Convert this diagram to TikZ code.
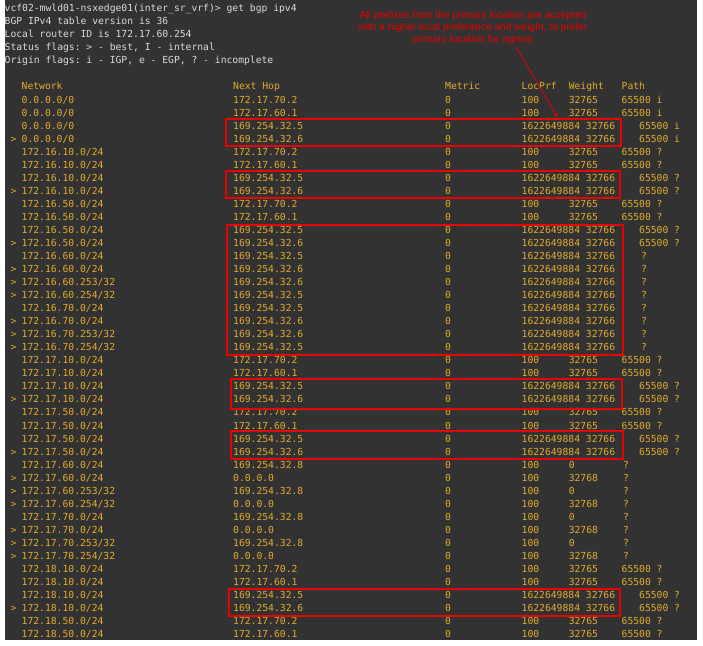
\documentclass[tikz,border=0pt]{standalone}
\usepackage{fontspec}
\usetikzlibrary{arrows.meta}
\setmonofont{DejaVu Sans Mono}
\setsansfont{Liberation Sans}
\definecolor{termbg}{HTML}{323232}
\definecolor{termfg}{HTML}{E2AC2E}
\definecolor{termhd}{HTML}{DADADA}
\definecolor{markred}{HTML}{E80000}
\tikzset{
  cell/.style={anchor=base west, inner sep=0pt, text=termfg, font=\ttfamily\fontsize{9.7}{13}\selectfont},
  headline/.style={cell, text=termhd},
  markbox/.style={draw=markred, line width=1.4pt},
}
% one table row: index, flag, network, next hop, locprf, weight, path, path x
\newcommand\bgprow[8]{%
  \pgfmathsetmacro\rowy{-(100+(#1-1)*13.02+3.5)}
  \node[cell] (flag#1) at (10.5,\rowy) {#2};
  \node[cell] (net#1) at (21.5,\rowy) {#3};
  \node[cell] (hop#1) at (233,\rowy) {#4};
  \node[cell] (met#1) at (445,\rowy) {0};
  \node[cell] (lp#1) at (521.5,\rowy) {#5};
  \node[cell] (wt#1) at (568.6,\rowy) {#6};
  \node[cell] (path#1) at (#8,\rowy) {#7};
}
\begin{document}
\begin{tikzpicture}[x=1pt, y=1pt]
  % Terminal window
  \useasboundingbox (0,0) rectangle (703,-645);
  \fill[termbg] (4.5,0) rectangle (697,-640);

  % Banner lines
  \node[headline] (cmd) at (4.5,-11.5) {vcf02-mwld01-nsxedge01(inter\_sr\_vrf)> get bgp ipv4};
  \node[headline] (ver) at (4.5,-24.5) {BGP IPv4 table version is 36};
  \node[headline] (rid) at (4.5,-37.5) {Local router ID is 172.17.60.254};
  \node[headline] (sfl) at (4.5,-50.5) {Status flags: > - best, I - internal};
  \node[headline] (ofl) at (4.5,-63.5) {Origin flags: i - IGP, e - EGP, ? - incomplete};

  % Column heads
  \node[cell] (hnet) at (21.5,-89.5) {Network};
  \node[cell] (hhop) at (233,-89.5) {Next Hop};
  \node[cell] (hmet) at (445,-89.5) {Metric};
  \node[cell] (hlp) at (521.5,-89.5) {LocPrf};
  \node[cell] (hwt) at (568.6,-89.5) {Weight};
  \node[cell] (hpath) at (621.5,-89.5) {Path};

  % Rows
  \bgprow{1}{}{0.0.0.0/0}{172.17.70.2}{100}{32765}{65500 i}{621.5}
  \bgprow{2}{}{0.0.0.0/0}{172.17.60.1}{100}{32765}{65500 i}{621.5}
  \bgprow{3}{}{0.0.0.0/0}{169.254.32.5}{1622649884 32766}{}{65500 i}{639}
  \bgprow{4}{>}{0.0.0.0/0}{169.254.32.6}{1622649884 32766}{}{65500 i}{639}
  \bgprow{5}{}{172.16.10.0/24}{172.17.70.2}{100}{32765}{65500 ?}{621.5}
  \bgprow{6}{}{172.16.10.0/24}{172.17.60.1}{100}{32765}{65500 ?}{621.5}
  \bgprow{7}{}{172.16.10.0/24}{169.254.32.5}{1622649884 32766}{}{65500 ?}{639}
  \bgprow{8}{>}{172.16.10.0/24}{169.254.32.6}{1622649884 32766}{}{65500 ?}{639}
  \bgprow{9}{}{172.16.50.0/24}{172.17.70.2}{100}{32765}{65500 ?}{621.5}
  \bgprow{10}{}{172.16.50.0/24}{172.17.60.1}{100}{32765}{65500 ?}{621.5}
  \bgprow{11}{}{172.16.50.0/24}{169.254.32.5}{1622649884 32766}{}{65500 ?}{639}
  \bgprow{12}{>}{172.16.50.0/24}{169.254.32.6}{1622649884 32766}{}{65500 ?}{639}
  \bgprow{13}{}{172.16.60.0/24}{169.254.32.5}{1622649884 32766}{}{?}{641}
  \bgprow{14}{>}{172.16.60.0/24}{169.254.32.6}{1622649884 32766}{}{?}{641}
  \bgprow{15}{>}{172.16.60.253/32}{169.254.32.6}{1622649884 32766}{}{?}{641}
  \bgprow{16}{>}{172.16.60.254/32}{169.254.32.5}{1622649884 32766}{}{?}{641}
  \bgprow{17}{}{172.16.70.0/24}{169.254.32.5}{1622649884 32766}{}{?}{641}
  \bgprow{18}{>}{172.16.70.0/24}{169.254.32.6}{1622649884 32766}{}{?}{641}
  \bgprow{19}{>}{172.16.70.253/32}{169.254.32.6}{1622649884 32766}{}{?}{641}
  \bgprow{20}{>}{172.16.70.254/32}{169.254.32.5}{1622649884 32766}{}{?}{641}
  \bgprow{21}{}{172.17.10.0/24}{172.17.70.2}{100}{32765}{65500 ?}{621.5}
  \bgprow{22}{}{172.17.10.0/24}{172.17.60.1}{100}{32765}{65500 ?}{621.5}
  \bgprow{23}{}{172.17.10.0/24}{169.254.32.5}{1622649884 32766}{}{65500 ?}{639}
  \bgprow{24}{>}{172.17.10.0/24}{169.254.32.6}{1622649884 32766}{}{65500 ?}{639}
  \bgprow{25}{}{172.17.50.0/24}{172.17.70.2}{100}{32765}{65500 ?}{621.5}
  \bgprow{26}{}{172.17.50.0/24}{172.17.60.1}{100}{32765}{65500 ?}{621.5}
  \bgprow{27}{}{172.17.50.0/24}{169.254.32.5}{1622649884 32766}{}{65500 ?}{639}
  \bgprow{28}{>}{172.17.50.0/24}{169.254.32.6}{1622649884 32766}{}{65500 ?}{639}
  \bgprow{29}{}{172.17.60.0/24}{169.254.32.8}{100}{0}{?}{623}
  \bgprow{30}{>}{172.17.60.0/24}{0.0.0.0}{100}{32768}{?}{623}
  \bgprow{31}{>}{172.17.60.253/32}{169.254.32.8}{100}{0}{?}{623}
  \bgprow{32}{>}{172.17.60.254/32}{0.0.0.0}{100}{32768}{?}{623}
  \bgprow{33}{}{172.17.70.0/24}{169.254.32.8}{100}{0}{?}{623}
  \bgprow{34}{>}{172.17.70.0/24}{0.0.0.0}{100}{32768}{?}{623}
  \bgprow{35}{>}{172.17.70.253/32}{169.254.32.8}{100}{0}{?}{623}
  \bgprow{36}{>}{172.17.70.254/32}{0.0.0.0}{100}{32768}{?}{623}
  \bgprow{37}{}{172.18.10.0/24}{172.17.70.2}{100}{32765}{65500 ?}{621.5}
  \bgprow{38}{}{172.18.10.0/24}{172.17.60.1}{100}{32765}{65500 ?}{621.5}
  \bgprow{39}{}{172.18.10.0/24}{169.254.32.5}{1622649884 32766}{}{65500 ?}{639}
  \bgprow{40}{>}{172.18.10.0/24}{169.254.32.6}{1622649884 32766}{}{65500 ?}{639}
  \bgprow{41}{}{172.18.50.0/24}{172.17.70.2}{100}{32765}{65500 ?}{621.5}
  \bgprow{42}{}{172.18.50.0/24}{172.17.60.1}{100}{32765}{65500 ?}{621.5}

  % Highlight boxes
  \draw[markbox] (226,-119) rectangle (621,-146);
  \draw[markbox] (226,-171) rectangle (620,-198);
  \draw[markbox] (227,-225) rectangle (623,-355);
  \draw[markbox] (231,-379) rectangle (622,-409);
  \draw[markbox] (231,-431) rectangle (623,-459);
  \draw[markbox] (229,-589) rectangle (620,-616);

  % Note
  \node[align=center, text=markred, font=\sffamily\fontsize{10.2}{12}\selectfont, inner sep=0pt] (note) at (473,-28)
    {All prefixes from the primary location are accepted\\with a higher local preference and weight, to prefer\\primary location for egress};
  \coordinate (tip) at (558,-118);
  \draw[markred, line width=0.8pt, -{Latex[length=5pt,width=3.5pt]}] (note.south) ++(43,-2) -- (tip);
\end{tikzpicture}
\end{document}
